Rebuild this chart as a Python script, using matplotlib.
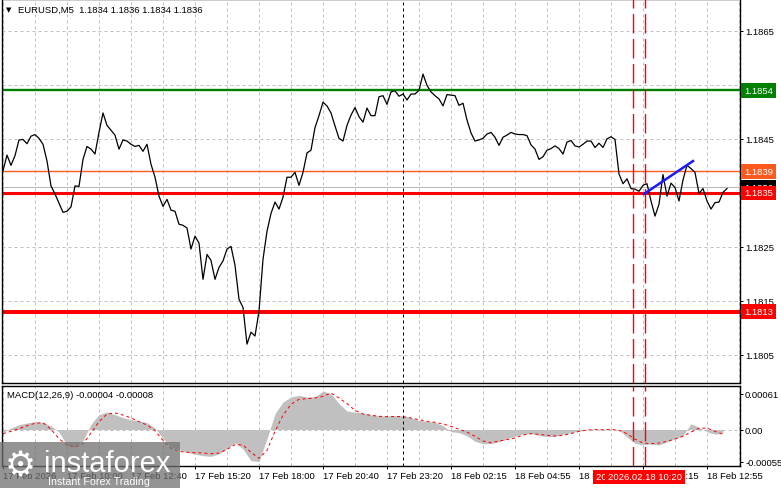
import matplotlib.pyplot as plt
import numpy as np
from matplotlib.patches import Rectangle
from matplotlib.transforms import blended_transform_factory

plt.rcParams['font.family'] = ['Liberation Sans', 'DejaVu Sans']

# EURUSD M5 closes, one value every 2 bars
prices = [
    1.18391, 1.18420, 1.18401, 1.18419, 1.18448, 1.18449, 1.18441, 1.18455, 1.18458, 1.18451,
    1.18440, 1.18409, 1.18363, 1.18348, 1.18331, 1.18314, 1.18316, 1.18324, 1.18363, 1.18362,
    1.18412, 1.18436, 1.18431, 1.18422, 1.18462, 1.18498, 1.18475, 1.18466, 1.18457, 1.18431,
    1.18448, 1.18446, 1.18440, 1.18436, 1.18438, 1.18427, 1.18440, 1.18403, 1.18379, 1.18344,
    1.18325, 1.18338, 1.18318, 1.18316, 1.18292, 1.18290, 1.18285, 1.18246, 1.18270, 1.18257,
    1.18190, 1.18236, 1.18225, 1.18190, 1.18212, 1.18224, 1.18246, 1.18251, 1.18216, 1.18153,
    1.18138, 1.18070, 1.18092, 1.18085, 1.18131, 1.18227, 1.18279, 1.18312, 1.18333, 1.18320,
    1.18342, 1.18379, 1.18379, 1.18388, 1.18364, 1.18388, 1.18424, 1.18429, 1.18471, 1.18493,
    1.18518, 1.18511, 1.18498, 1.18474, 1.18451, 1.18446, 1.18475, 1.18494, 1.18508, 1.18491,
    1.18481, 1.18507, 1.18493, 1.18493, 1.18528, 1.18530, 1.18514, 1.18537, 1.18539, 1.18529,
    1.18533, 1.18522, 1.18533, 1.18533, 1.18540, 1.18570, 1.18549, 1.18537, 1.18530, 1.18524,
    1.18511, 1.18532, 1.18531, 1.18530, 1.18512, 1.18516, 1.18485, 1.18461, 1.18446, 1.18448,
    1.18451, 1.18459, 1.18462, 1.18453, 1.18438, 1.18453, 1.18457, 1.18462, 1.18459, 1.18458,
    1.18458, 1.18456, 1.18439, 1.18431, 1.18412, 1.18417, 1.18429, 1.18432, 1.18437, 1.18432,
    1.18422, 1.18444, 1.18447, 1.18437, 1.18435, 1.18440, 1.18446, 1.18446, 1.18434, 1.18442,
    1.18434, 1.18450, 1.18454, 1.18449, 1.18385, 1.18367, 1.18376, 1.18358, 1.18357, 1.18353,
    1.18364, 1.18367, 1.18335, 1.18307, 1.18329, 1.18384, 1.18344, 1.18368, 1.18360, 1.18335,
    1.18374, 1.18401, 1.18395, 1.18388, 1.18349, 1.18358, 1.18335, 1.18320, 1.18332, 1.18333,
    1.18351, 1.18358,
]

# MACD(12,26,9), in units of 1e-5, one value every 4 bars
macd_hist_e5 = [
    -4.9, 2.6, 8.3, 11.1, 13.4, 12.3, 6.0, -4.3, -27.1, -30.0,
    -19.1, 8.9, 25.4, 30.0, 25.4, 20.3, 16.8, 14.6, 11.7, 2.6,
    -15.7, -29.4, -34.5, -39.1, -42.5, -44.8, -46.0, -41.4, -32.8, -22.6,
    -33.4, -53.4, -55.0, -15.7, 27.1, 47.1, 55.7, 58.5, 55.7, 56.2,
    65.9, 61.4, 44.3, 31.7, 29.4, 28.3, 25.4, 23.7, 23.1, 23.7,
    23.7, 20.3, 15.7, 14.0, 12.3, 6.6, -3.7, -5.4, -10.6, -20.3,
    -24.3, -24.3, -20.8, -15.7, -11.7, -7.7, -7.1, -10.0, -12.3, -11.7,
    -8.3, -5.4, -3.1, 0.3, 0.3, -0.9, 0.3, -0.9, -12.8, -23.7,
    -26.0, -24.8, -26.6, -21.4, -15.7, -10.6, 10.0, 4.0, -4.0, -8.0,
    -6.0,
]
macd_signal_e5 = [
    -7.1, -3.1, 1.4, 6.6, 10.6, 11.7, 0.3, -15.7, -27.1, -30.0,
    -24.3, -6.0, 13.4, 26.6, 28.3, 24.8, 19.7, 13.4, 7.7, -2.0,
    -18.6, -32.3, -37.4, -39.1, -39.7, -40.3, -41.4, -40.3, -34.0, -26.0,
    -26.5, -39.1, -49.4, -35.7, -3.1, 24.3, 43.1, 51.7, 52.8, 54.0,
    56.8, 62.5, 54.0, 44.3, 32.8, 26.6, 24.3, 22.6, 22.0, 22.3,
    22.0, 19.7, 16.8, 14.0, 12.3, 9.4, 5.4, 0.3, -4.3, -11.7,
    -19.7, -22.6, -19.7, -17.4, -14.6, -9.4, -7.1, -8.3, -10.0, -11.1,
    -10.0, -7.1, -3.1, -0.9, -0.3, -0.3, 0.3, -1.4, -7.1, -16.6,
    -23.1, -24.3, -23.1, -20.3, -16.3, -11.7, -4.3, 2.0, 2.6, -3.1,
    -8.3,
]

time_labels = ["17 Feb 2026", "17 Feb 10:00", "17 Feb 12:40", "17 Feb 15:20",
               "17 Feb 18:00", "17 Feb 20:40", "17 Feb 23:20", "18 Feb 02:15",
               "18 Feb 04:55", "18 Feb 07:35", "18 Feb 10:15", "18 Feb 12:55"]
price_ticks = [1.1805, 1.1815, 1.1825, 1.1835, 1.1845, 1.1855, 1.1865]
macd_ticks = [0.00061, 0.0, -0.00055]
macd_tick_labels = ["0.00061", "0.00", "-0.00055"]

resistance = 1.1854
entry_up = 1.1839
entry_down = 1.1835
support = 1.1813
last_price = 1.1836
trend_bars = [320.5, 345]
trend_prices = [1.18348, 1.18409]
session_bar = 200
signal_bars = [315, 321]
signal_times = ["2026.02.18 09:50", "2026.02.18 10:20"]

price_bars = np.arange(len(prices)) * 2
macd_bars = np.arange(len(macd_hist_e5)) * 4
hist = np.array(macd_hist_e5) * 1e-5
signal = np.array(macd_signal_e5) * 1e-5

W, H = 781, 489
px = 0.72  # one pixel in points at 100 dpi
fs = 6.8


def fx(x):
    return x / W


def fy(y):
    return 1 - y / H


fig = plt.figure(figsize=(W / 100, H / 100), dpi=100)
ax = fig.add_axes([fx(2), fy(384), fx(740) - fx(2), 384 / H])
ax2 = fig.add_axes([fx(2), fy(467), fx(740) - fx(2), 80 / H], sharex=ax)

grid_kw = dict(color='#c0c0c0', lw=px, ls=(0, (3, 3)), zorder=0)
for a in (ax, ax2):
    for b in range(0, 369, 16):
        a.axvline(b, **grid_kw)
    for s in a.spines.values():
        s.set_linewidth(1.0)
        s.set_color('black')
for p in price_ticks:
    ax.axhline(p, **grid_kw)
ax2.axhline(0, **grid_kw)

# main price panel
ax.axhline(last_price, color='#b8b8b8', lw=px, zorder=1)
ax.axhline(resistance, color='#008000', lw=1.7, zorder=2)
ax.axhline(entry_up, color='#ff5a1e', lw=1.0, zorder=2)
ax.axhline(entry_down, color='#ff0000', lw=2.2, zorder=2)
ax.axhline(support, color='#ff0000', lw=2.9, zorder=2)
ax.plot(price_bars, prices, color='black', lw=0.9, zorder=3)
ax.plot(trend_bars, trend_prices, color='#1a1aff', lw=1.8, zorder=4)

for a in (ax, ax2):
    a.axvline(session_bar, color='black', lw=px, ls=(0, (3, 3)), zorder=3)
    for b in signal_bars:
        a.axvline(b, color='#ff0000', lw=1.0, ls=(0, (14, 4)), zorder=3)

ax.set_xlim(-0.5, 368.5)
ax.set_ylim(1.17998, 1.18709)
ax.yaxis.tick_right()
ax.set_yticks(price_ticks, ['%.4f' % p for p in price_ticks])
ax.tick_params(axis='y', length=3 * px, width=px, pad=1.5, labelsize=fs)
ax.tick_params(axis='x', bottom=False, labelbottom=False)

trans = blended_transform_factory(fig.transFigure, ax.transData)
box_labels = [(last_price, 'black'), (resistance, '#008000'), (entry_up, '#ff5a1e'),
              (entry_down, '#ff0000'), (support, '#ff0000')]
for p, c in box_labels:
    ax.text(fx(744), p, '%.4f' % p, transform=trans, color='white', fontsize=fs,
            ha='left', va='center', clip_on=False, zorder=10,
            bbox=dict(boxstyle='square,pad=0.3', fc=c, ec='none'))

fig.text(fx(6), fy(10), '\u25bc', fontsize=5, va='center', family=['DejaVu Sans'])
fig.text(fx(18), fy(10), 'EURUSD,M5  1.1834 1.1836 1.1834 1.1836', fontsize=fs, va='center')

# MACD panel
ax2.fill_between(macd_bars, hist, 0, color='#c0c0c0', lw=0, zorder=1)
ax2.plot(macd_bars, signal, color='#ff0000', lw=px, ls=(0, (3, 3)), zorder=2)
ax2.set_ylim(-0.000625, 0.000745)
ax2.yaxis.tick_right()
ax2.set_yticks(macd_ticks, macd_tick_labels)
ax2.tick_params(axis='y', length=3 * px, width=px, pad=1.5, labelsize=fs)
ax2.set_xticks(np.arange(len(time_labels)) * 32, time_labels, ha='left')
ax2.tick_params(axis='x', length=3 * px, width=px, pad=1.5, labelsize=fs)
fig.text(fx(7), fy(396), 'MACD(12,26,9) -0.00004 -0.00008', fontsize=fs, va='center')

for b, t in zip(signal_bars, signal_times):
    ax2.text(b, -0.1375, t, transform=ax2.get_xaxis_transform(), color='white',
             fontsize=fs, ha='center', va='center', clip_on=False, zorder=10,
             bbox=dict(boxstyle='square,pad=0.3', fc='#ff0000', ec='none'))

# watermark
fig.add_artist(Rectangle((0, 0), fx(180), 46 / H, transform=fig.transFigure,
                         fc='#707070', alpha=0.75, ec='none', zorder=20))
fig.text(fx(5), fy(467), '\u2699', fontsize=25, color='white', va='center',
         family=['DejaVu Sans'], zorder=21)
fig.text(fx(44), fy(464), 'instaforex', fontsize=21, color='white', va='center', zorder=21)
fig.text(fx(48), fy(482), 'Instant Forex Trading', fontsize=7.7, color='white',
         va='center', zorder=21)

fig.savefig('out.png', dpi=100)
